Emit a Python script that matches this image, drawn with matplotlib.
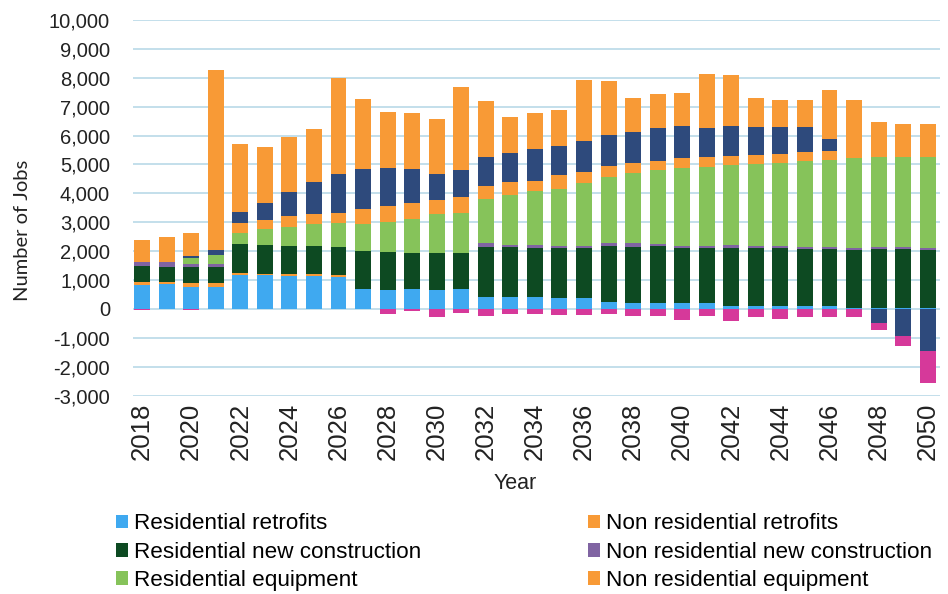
import matplotlib
matplotlib.use("Agg")
import matplotlib.pyplot as plt
from matplotlib.patches import Patch
from matplotlib.ticker import FuncFormatter
import numpy as np

plt.rcParams["font.family"] = ["Liberation Sans", "DejaVu Sans"]

years = list(range(2018, 2051))

# stacked in this order (bottom to top for positives, navy then magenta below zero)
res_retro = [840, 865, 750, 775, 1180, 1180, 1155, 1155, 1120, 695, 670, 695, 670, 695, 405, 405, 405,
             380, 380, 230, 210, 210, 210, 210, 90, 90, 90, 90, 90, 40, 40, 40, 40]
nr_retro = [80, 60, 140, 115, 70, 35, 45, 60, 60, 0, 0, 0, 0, 0, 0, 0, 0,
            0, 0, 0, 0, 0, 0, 0, 0, 0, 0, 0, 0, 0, 0, 0, 0]
res_new = [555, 520, 555, 555, 1005, 1005, 995, 960, 980, 1305, 1295, 1245, 1270, 1235, 1755, 1755, 1710,
           1730, 1730, 1965, 1950, 1965, 1905, 1905, 2010, 2010, 2010, 1985, 1985, 2000, 2045, 2020, 2000]
nr_new = [140, 170, 115, 115, 0, 0, 0, 0, 0, 0, 0, 0, 0, 0, 115, 60, 105,
          60, 80, 80, 115, 60, 80, 60, 115, 90, 90, 80, 80, 60, 70, 80, 80]
res_equip = [0, 0, 195, 290, 380, 530, 635, 750, 820, 925, 1040, 1180, 1330, 1395, 1535, 1730, 1850,
             1985, 2160, 2285, 2425, 2565, 2690, 2735, 2750, 2830, 2865, 2980, 3015, 3120, 3120, 3130, 3150]
nr_equip = [0, 0, 0, 0, 345, 345, 380, 345, 345, 520, 545, 545, 485, 545, 460, 440, 360,
            485, 380, 370, 345, 325, 345, 345, 325, 310, 310, 310, 310, 0, 0, 0, 0]
other_navy = [0, 0, 90, 175, 390, 575, 830, 1120, 1330, 1385, 1330, 1165, 925, 925, 1005, 1015, 1120,
              995, 1075, 1075, 1075, 1120, 1085, 1015, 1040, 980, 945, 865, 405, 0, -470, -935, -1470]
other_orange = [775, 865, 775, 6235, 2345, 1950, 1905, 1850, 3350, 2450, 1940, 1950, 1905, 2885, 1905, 1235, 1235,
                1260, 2135, 1880, 1180, 1190, 1155, 1850, 1755, 980, 925, 925, 1700, 2000, 1180, 1120, 1120]
other_magenta = [-40, 0, -40, 0, 0, 0, 0, 0, 0, 0, -160, -60, -290, -140, -250, -190, -190,
                 -200, -200, -175, -230, -230, -380, -230, -420, -270, -350, -270, -270, -270, -275, -350, -1100]

blue = "#3fa9f0"
dgreen = "#0d4a22"
lgreen = "#86c35a"
orange = "#f89a36"
purple = "#8064a2"
navy = "#2e4a7c"
magenta = "#d6399a"

series = [
    (res_retro, blue),
    (nr_retro, orange),
    (res_new, dgreen),
    (nr_new, purple),
    (res_equip, lgreen),
    (nr_equip, orange),
    (other_navy, navy),
    (other_orange, orange),
    (other_magenta, magenta),
]

fig = plt.figure(figsize=(9.48, 5.94), dpi=100)
ax = fig.add_axes([133 / 948, 1 - 395.6 / 594, 807 / 948, 375.6 / 594])

x = np.array(years)
pos = np.zeros(len(years))
neg = np.zeros(len(years))
for vals, col in series:
    v = np.array(vals, dtype=float)
    bottom = np.where(v >= 0, pos, neg)
    ax.bar(x, v, 0.65, bottom=bottom, color=col, linewidth=0, zorder=3)
    pos = pos + np.where(v >= 0, v, 0)
    neg = neg + np.where(v < 0, v, 0)

ax.set_ylim(-3000, 10000)
ax.set_xlim(2017.63, 2050.5)
ax.set_yticks(range(-3000, 10001, 1000))
ax.yaxis.set_major_formatter(FuncFormatter(lambda v, p: f"{int(v):,}"))
ax.set_xticks(range(2018, 2051, 2))
ax.tick_params(axis="x", rotation=90, length=0, labelsize=18.5, pad=5, colors="#222222")
ax.tick_params(axis="y", length=0, labelsize=14.5, pad=16.5, colors="#222222")
ax.grid(axis="y", color="#b9d9e8", linewidth=1.2, zorder=0)
for s in ax.spines.values():
    s.set_visible(False)

ax.set_ylabel("Number of Jobs", family="Lato", fontsize=14.5, color="#222222")
ax.yaxis.set_label_coords(-0.126, 0.44)
ax.set_xlabel("Year", fontsize=15.5, color="#222222")
ax.xaxis.set_label_coords(0.474, -0.205)

labels = ["Residential retrofits", "Residential new construction", "Residential equipment",
          "Non residential retrofits", "Non residential new construction", "Non residential equipment"]
colors = [blue, dgreen, lgreen, orange, purple, orange]
handles = [Patch(facecolor=c, label=l) for c, l in zip(colors, labels)]
fig.legend(handles=handles, ncol=2, loc="upper left", bbox_to_anchor=(0.113, 0.151),
           frameon=False, fontsize=16.2, handlelength=0.55, handleheight=0.55,
           handletextpad=0.25, columnspacing=7.4, labelspacing=0.33, borderaxespad=0)

fig.savefig("out.png", dpi=100)
